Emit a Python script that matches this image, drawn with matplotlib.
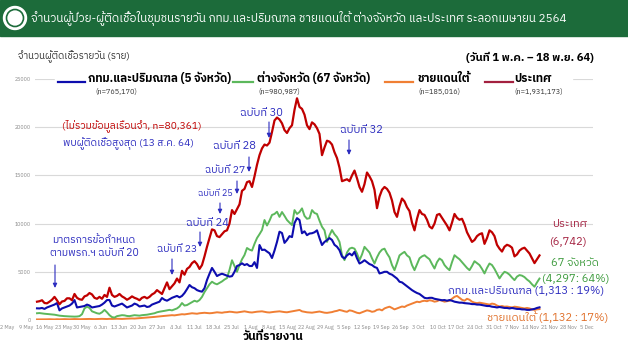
import numpy as np
import pandas as pd
import matplotlib
matplotlib.use("Agg")
import matplotlib.pyplot as plt
import matplotlib.dates as mdates
from matplotlib import font_manager
from matplotlib.ft2font import FT2Font
from matplotlib.lines import Line2D
from matplotlib.patches import Rectangle, Ellipse, FancyArrowPatch

# daily cases, 1 May - 18 Nov 2021
country = [
    1900, 1950, 2050, 1760, 1730, 1900, 2100, 2400, 2040, 1630,
    1920, 1980, 2250, 2250, 2050, 2700, 2300, 2150, 2100, 2450,
    2550, 2800, 2650, 2300, 2200, 2400, 2200, 2600, 2400, 3350,
    2600, 2400, 2500, 2700, 2450, 2300, 2100, 2250, 2450, 2300,
    2200, 2050, 2300, 2400, 2250, 2400, 2650, 2800, 3100, 2900,
    2700, 3300, 3900, 3200, 3500, 3800, 4300, 3900, 5100, 4700,
    5300, 5500, 5900, 6100, 5800, 5300, 5700, 6600, 7600, 8500,
    9400, 9300, 8700, 8600, 8900, 9200, 9300, 10000, 11400, 11000,
    11500, 12000, 13400, 13600, 14300, 14400, 13800, 14900, 16100, 17100,
    17800, 18200, 18100, 18400, 19500, 20700, 21000, 20800, 20400, 19700,
    19400, 19900, 20200, 21800, 23000, 22100, 21900, 21300, 20200, 19800,
    20500, 20300, 19900, 19300, 17100, 17900, 18600, 18500, 18200, 17400,
    16800, 15800, 14400, 14500, 14600, 14400, 15000, 15500, 14700, 13800,
    13300, 14100, 15300, 14900, 14400, 13500, 11600, 12800, 13500, 13800,
    13600, 13200, 12400, 11200, 10700, 11800, 12600, 12300, 11700, 11300,
    10100, 9300, 10500, 11400, 11000, 10900, 10400, 9700, 9500, 10000,
    10900, 11000, 10600, 10200, 9800, 9300, 10100, 11000, 10600, 10400,
    10500, 9900, 9100, 8600, 8100, 8300, 8700, 8900, 9000, 7900,
    8500, 9300, 9100, 8700, 7800, 7400, 7100, 7600, 7800, 7700,
    7500, 6600, 6800, 7200, 7400, 7500, 7200, 6900, 6400, 5900,
    6300, 6700,
]
provinces = [
    700, 720, 680, 650, 620, 600, 580, 550, 500, 450,
    420, 400, 380, 370, 360, 350, 360, 400, 600, 1200,
    1380, 1250, 900, 800, 700, 650, 800, 1050, 800, 500,
    300, 250, 400, 450, 500, 480, 420, 400, 450, 500,
    480, 450, 500, 520, 550, 600, 650, 700, 800, 860,
    900, 950, 1000, 1050, 1000, 1100, 1200, 1400, 1760, 1500,
    1550, 1700, 1850, 2000, 1900, 2070, 2400, 2900, 3300, 3700,
    3970, 3800, 3700, 3850, 4000, 4200, 4350, 5200, 6200, 5600,
    5000, 5700, 6300, 6740, 7470, 7300, 7200, 7900, 8500, 8900,
    9330, 10370, 9800, 10300, 10900, 11000, 11230, 10700, 11200, 10800,
    10370, 10100, 9850, 11400, 11000, 11200, 11580, 10800, 10500, 10560,
    11400, 11100, 11000, 10300, 9670, 9300, 8100, 8800, 9330, 8900,
    8600, 8100, 6740, 6210, 7000, 7400, 7500, 7400, 6900, 6200,
    6800, 7590, 7300, 7000, 6400, 5860, 6500, 7000, 7300, 7400,
    6900, 6500, 5700, 5170, 5900, 6700, 6900, 7070, 6700, 6500,
    5700, 5170, 5800, 6400, 6600, 6720, 6500, 6300, 5800, 5340,
    6000, 6380, 6200, 5700, 5400, 5170, 6000, 6720, 6500, 6300,
    6000, 5700, 5400, 5170, 5600, 6100, 5900, 5700, 5300, 4830,
    5400, 5860, 5700, 5300, 4800, 4310, 4700, 5000, 4900, 4700,
    4400, 4140, 4500, 4660, 4600, 4450, 4200, 4000, 3700, 3450,
    3900, 4300,
]
bangkok = [
    1210, 1200, 1250, 1150, 1300, 1400, 1500, 1600, 1760, 1000,
    1200, 1300, 1400, 1500, 1700, 2070, 1300, 1350, 1400, 1450,
    1600, 1500, 1300, 1350, 1400, 1450, 1600, 1800, 2070, 2070,
    1500, 1400, 1500, 1600, 1700, 1500, 1300, 1400, 1500, 1700,
    1600, 1400, 1450, 1500, 1350, 1400, 1600, 1700, 1800, 1900,
    2280, 2100, 2000, 2150, 2300, 2400, 2500, 2350, 2500, 2800,
    3200, 3630, 3400, 3300, 3100, 3000, 2940, 3300, 4150, 4800,
    5400, 5000, 4560, 4700, 4800, 4700, 4600, 4500, 4550, 5000,
    5600, 5700, 5880, 5700, 5800, 5600, 5600, 6000, 5400, 7780,
    7260, 7300, 7100, 6920, 6430, 7200, 8100, 9160, 9020, 8000,
    8300, 8700, 8600, 10050, 10570, 10370, 9000, 9200, 8800, 8970,
    9000, 9100, 9300, 8500, 7780, 8100, 8280, 8500, 8300, 7800,
    7600, 7240, 6570, 6380, 6700, 6900, 6700, 7070, 6400, 5860,
    6000, 6200, 6000, 5800, 5700, 5500, 5400, 4830, 4900, 5000,
    5000, 4800, 4700, 4500, 4300, 3970, 3900, 3700, 3500, 3300,
    3100, 2940, 2800, 2700, 2500, 2300, 2250, 2300, 2300, 2200,
    2150, 2100, 2050, 2070, 2000, 2070, 2000, 1900, 1850, 1800,
    1800, 1750, 1730, 1700, 1650, 1650, 1600, 1600, 1550, 1500,
    1450, 1450, 1380, 1350, 1300, 1350, 1300, 1250, 1250, 1200,
    1250, 1200, 1150, 1150, 1100, 1100, 1050, 1050, 1100, 1150,
    1250, 1313,
]
south = [
    60, 60, 70, 60, 70, 80, 70, 60, 80, 70,
    80, 90, 80, 70, 90, 100, 90, 80, 90, 100,
    100, 110, 100, 90, 100, 110, 120, 110, 100, 120,
    110, 120, 130, 120, 110, 130, 140, 150, 160, 150,
    170, 180, 200, 220, 250, 280, 300, 320, 350, 380,
    400, 420, 450, 480, 500, 480, 520, 560, 600, 580,
    620, 650, 700, 680, 650, 700, 720, 750, 720, 700,
    720, 760, 800, 780, 750, 800, 820, 860, 840, 800,
    780, 820, 860, 900, 850, 800, 780, 820, 860, 880,
    900, 850, 800, 780, 820, 850, 880, 900, 860, 820,
    800, 850, 900, 950, 1000, 1040, 900, 850, 800, 780,
    760, 800, 850, 880, 820, 760, 740, 780, 820, 900,
    950, 1040, 980, 900, 850, 1000, 950, 850, 750, 700,
    800, 900, 1000, 950, 850, 900, 1050, 1100, 1000, 1200,
    1300, 1380, 1250, 1100, 1200, 1300, 1400, 1350, 1500, 1600,
    1700, 1800, 1900, 1850, 1950, 2000, 1950, 2050, 2000, 1900,
    1950, 2070, 2000, 1900, 1950, 2000, 2200, 2400, 2500, 2300,
    2100, 2000, 2200, 2100, 1900, 1800, 1750, 1800, 1750, 1700,
    1650, 1600, 1700, 1650, 1500, 1400, 1450, 1380, 1400, 1350,
    1300, 1380, 1350, 1300, 1250, 1200, 1250, 1200, 1100, 1050,
    1100, 1132,
]
dates = pd.date_range("2021-05-01", periods=len(country), freq="D")
y_ticks = [0, 5000, 10000, 15000, 20000, 25000]
x_tick_dates = pd.date_range("2021-05-02", "2021-12-05", freq="7D")

C_RED, C_GREEN, C_BLUE, C_ORANGE = "#c00000", "#5cb85c", "#0d0dae", "#f07f34"
C_MAROON = "#a3203f"
C_NOTE = "#2b2bbf"

W, H = 628, 353


def fx(x):
    return x / W


def fy(y):
    return 1 - y / H


def thai_font():
    names = []
    for f in font_manager.fontManager.ttflist:
        if f.name in names:
            continue
        try:
            if 0x0E01 in FT2Font(f.fname).get_charmap():
                names.append(f.name)
        except Exception:
            pass
    for n in names:
        if "Sans" in n or "Tahoma" in n:
            return n
    return names[0] if names else "DejaVu Sans"


plt.rcParams["font.family"] = [thai_font(), "DejaVu Sans"]

fig = plt.figure(figsize=(W / 100, H / 100), dpi=100)
fig.patch.set_facecolor("white")

# header band
fig.add_artist(Rectangle((0, fy(36)), 1, 36 / H, transform=fig.transFigure,
                         color="#1c6b3a", zorder=1))
fig.add_artist(Ellipse((fx(15), fy(18)), 23 / W, 23 / H, transform=fig.transFigure,
                       facecolor="white", edgecolor="white", zorder=2))
fig.add_artist(Ellipse((fx(15), fy(18)), 17 / W, 17 / H, transform=fig.transFigure,
                       facecolor="none", edgecolor="#1c6b3a", lw=1.2, zorder=3))
fig.text(fx(31), fy(18), "จำนวนผู้ป่วย-ผู้ติดเชื้อในชุมชนรายวัน กทม.และปริมณฑล ชายแดนใต้ ต่างจังหวัด และประเทศ ระลอกเมษายน 2564",
         color="white", fontsize=8.4, va="center", ha="left")

# main axes
ax = fig.add_axes([fx(35), fy(320), fx(593) - fx(35), fy(79) - fy(320)])
d0 = mdates.date2num(dates[0])
ax.set_xlim(d0 - 0.8, d0 + 222.4)
ax.set_ylim(0, 25000)
ax.set_yticks(y_ticks)
ax.set_yticklabels([str(v) for v in y_ticks])
ax.tick_params(axis="y", length=0, labelsize=3.8, labelcolor="#888888", pad=3)
ax.set_xticks([])
ax.grid(axis="y", color="#d9d9d9", lw=0.8)
ax.set_axisbelow(True)
for s in ax.spines.values():
    s.set_visible(False)

ax.plot(dates, south, color=C_ORANGE, lw=1.4)
ax.plot(dates, provinces, color=C_GREEN, lw=1.4)
ax.plot(dates, bangkok, color=C_BLUE, lw=1.5)
ax.plot(dates, country, color=C_RED, lw=1.6)

# date labels row
ax_t = fig.add_axes([fx(7.3), fy(324), fx(587) - fx(7.3), 0.001])
ax_t.set_xlim(mdates.date2num(x_tick_dates[0]), mdates.date2num(x_tick_dates[-1]))
ax_t.set_xticks(mdates.date2num(x_tick_dates))
ax_t.set_xticklabels([f"{d.day} {d.strftime('%b')}" for d in x_tick_dates])
ax_t.tick_params(axis="x", length=0, labelsize=3.8, labelcolor="#888888", pad=1)
ax_t.set_yticks([])
for s in ax_t.spines.values():
    s.set_visible(False)
ax_t.patch.set_alpha(0)

fig.text(fx(18), fy(57), "จำนวนผู้ติดเชื้อรายวัน (ราย)", fontsize=7, color="#333333",
         va="center", ha="left")
fig.text(fx(594), fy(57), "(วันที่ 1 พ.ค. – 18 พ.ย. 64)", fontsize=8, fontweight="bold",
         va="center", ha="right")
fig.text(fx(273), fy(337), "วันที่รายงาน", fontsize=8.5, fontweight="bold",
         va="center", ha="center")

# legend
fig.add_artist(Rectangle((fx(55), fy(88)), fx(572) - fx(55), 18 / H,
                         transform=fig.transFigure, color="white", zorder=2))
legend_items = [
    (58, 85, C_BLUE, 88, "กทม.และปริมณฑล (5 จังหวัด)", 95, "(n=765,170)"),
    (233, 253, C_GREEN, 257, "ต่างจังหวัด (67 จังหวัด)", 258, "(n=980,987)"),
    (385, 413, C_ORANGE, 418, "ชายแดนใต้", 418, "(n=185,016)"),
    (485, 513, C_MAROON, 514, "ประเทศ", 514, "(n=1,931,173)"),
]
for x0, x1, col, tx, label, nx, ntext in legend_items:
    fig.add_artist(Line2D([fx(x0), fx(x1)], [fy(82), fy(82)], color=col, lw=1.6,
                          transform=fig.transFigure, zorder=3))
    fig.text(fx(tx), fy(78), label, fontsize=8.3, fontweight="bold", va="center",
             ha="left", zorder=3)
    fig.text(fx(nx), fy(92), ntext, fontsize=5.3, color="#333333", va="center",
             ha="left", zorder=3)

# notes
fig.text(fx(62), fy(126), "(ไม่รวมข้อมูลเรือนจำ, n=80,361)", fontsize=7.4, color=C_RED,
         va="center", ha="left")
fig.text(fx(63), fy(144), "พบผู้ติดเชื้อสูงสุด (13 ส.ค. 64)", fontsize=7.4, color=C_NOTE,
         va="center", ha="left")
fig.text(fx(52), fy(240), "มาตรการข้อกำหนด", fontsize=7.6, color=C_NOTE, va="center", ha="left")
fig.text(fx(50), fy(253), "ตามพรก.ฯ ฉบับที่ 20", fontsize=7.6, color=C_NOTE, va="center", ha="left")

orders = [
    ("ฉบับที่ 20", None, None, 55, 265, 288, 8),
    ("ฉบับที่ 23", 157, 250, 172, 259, 275, 7.5),
    ("ฉบับที่ 24", 186, 223, 200, 232, 247, 8),
    ("ฉบับที่ 25", 198, 193, 220, 203, 214, 6.5),
    ("ฉบับที่ 27", 205, 170, 237, 181, 194, 7.5),
    ("ฉบับที่ 28", 213, 146, 249, 157, 172, 8),
    ("ฉบับที่ 30", 240, 113, 269, 122, 138, 8),
    ("ฉบับที่ 32", 340, 130, 349, 140, 155, 8),
]
for label, tx, ty, ax_x, ay0, ay1, fs in orders:
    if tx is not None:
        fig.text(fx(tx), fy(ty), label, fontsize=fs, color=C_NOTE, va="center", ha="left")
    fig.add_artist(FancyArrowPatch(
        (fx(ax_x), fy(ay0)), (fx(ax_x), fy(ay1)), transform=fig.transFigure,
        arrowstyle="-|>,head_length=2.5,head_width=1.2", color=C_NOTE, lw=0.8,
        shrinkA=0, shrinkB=0))

# end-of-line labels
fig.text(fx(570), fy(224), "ประเทศ", fontsize=8, color=C_MAROON, va="center", ha="center")
fig.text(fx(568), fy(242), "(6,742)", fontsize=8, color=C_MAROON, va="center", ha="center")
fig.text(fx(575), fy(263), "67 จังหวัด", fontsize=8, color="#3c9a3c", va="center", ha="center")
fig.text(fx(576), fy(279), "(4,297: 64%)", fontsize=8, color="#3c9a3c", va="center", ha="center")
fig.text(fx(604), fy(291), "กทม.และปริมณฑล (1,313 : 19%)", fontsize=8, color=C_NOTE,
         va="center", ha="right")
fig.text(fx(608), fy(317), "ชายแดนใต้ (1,132 : 17%)", fontsize=8, color="#e0702a",
         va="center", ha="right")

fig.savefig("out.png", dpi=100)
